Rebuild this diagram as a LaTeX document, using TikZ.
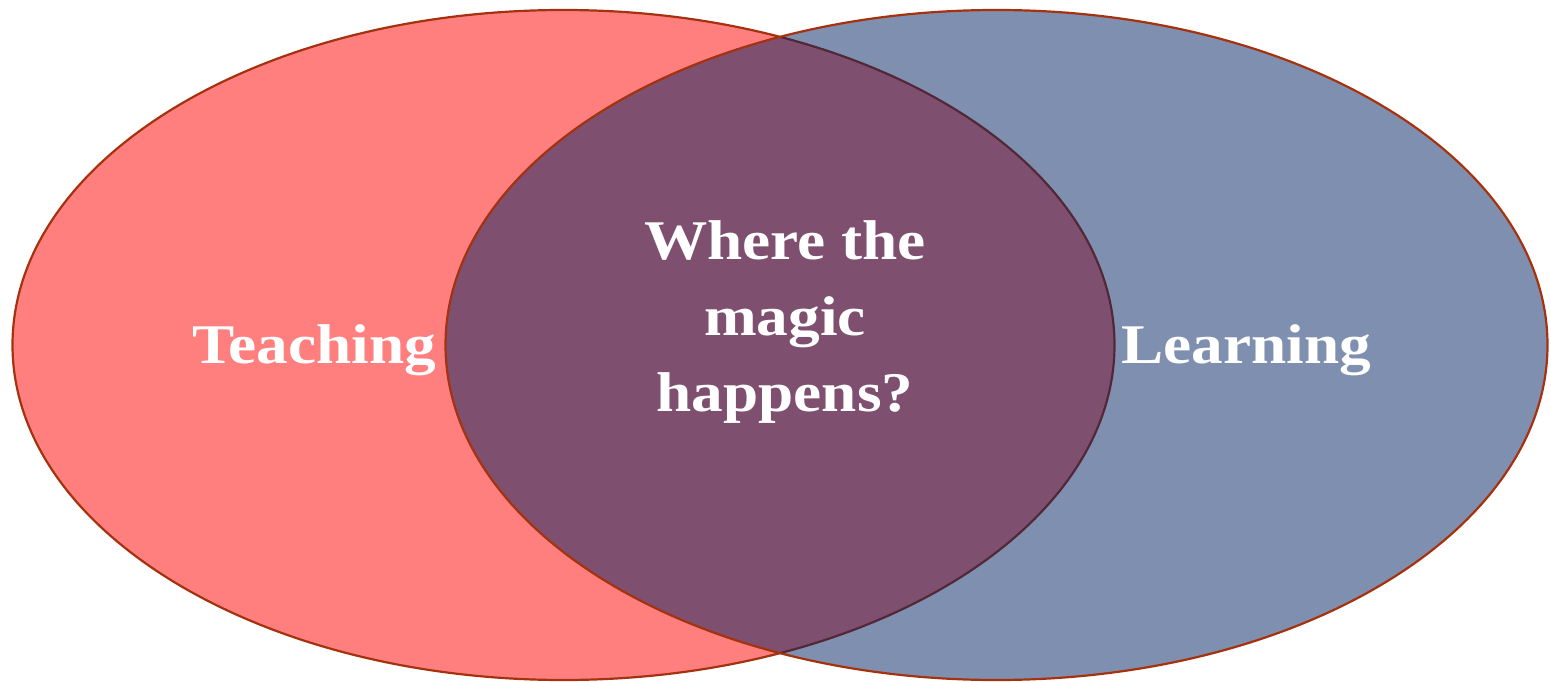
\documentclass[tikz,border=0pt]{standalone}
\usepackage{fontspec}
\setmainfont[FakeStretch=1.13]{Liberation Serif}
\usepackage{tikz}
\usetikzlibrary{shapes.geometric,positioning}
\definecolor{teachred}{RGB}{255,0,0}
\definecolor{learnblue}{RGB}{0,32,96}
\definecolor{rimbrown}{RGB}{165,50,15}
\tikzset{
  circlebox/.style={ellipse, draw=rimbrown, line width=2.2pt, inner sep=0pt,
    minimum width=1102pt, minimum height=670pt, fill opacity=0.5},
  wordlabel/.style={text=white, font=\bfseries\fontsize{56}{76}\selectfont, inner sep=0pt}
}

\begin{document}
\begin{tikzpicture}[x=1pt,y=-1pt]
\useasboundingbox (0,0) rectangle (1551,682);
\node[circlebox, fill=teachred] (teach) at (563.5,345) {};
\node[circlebox, fill=learnblue] (learn) at (996.5,345) {};
\node[wordlabel, anchor=base] (tlab) at (314,363) {Teaching};
\node[wordlabel, anchor=base] (llab) at (1246,363) {Learning};
\node[wordlabel, align=center] (magic) at (785,322) {Where the\\magic\\happens?};
\end{tikzpicture}
\end{document}
